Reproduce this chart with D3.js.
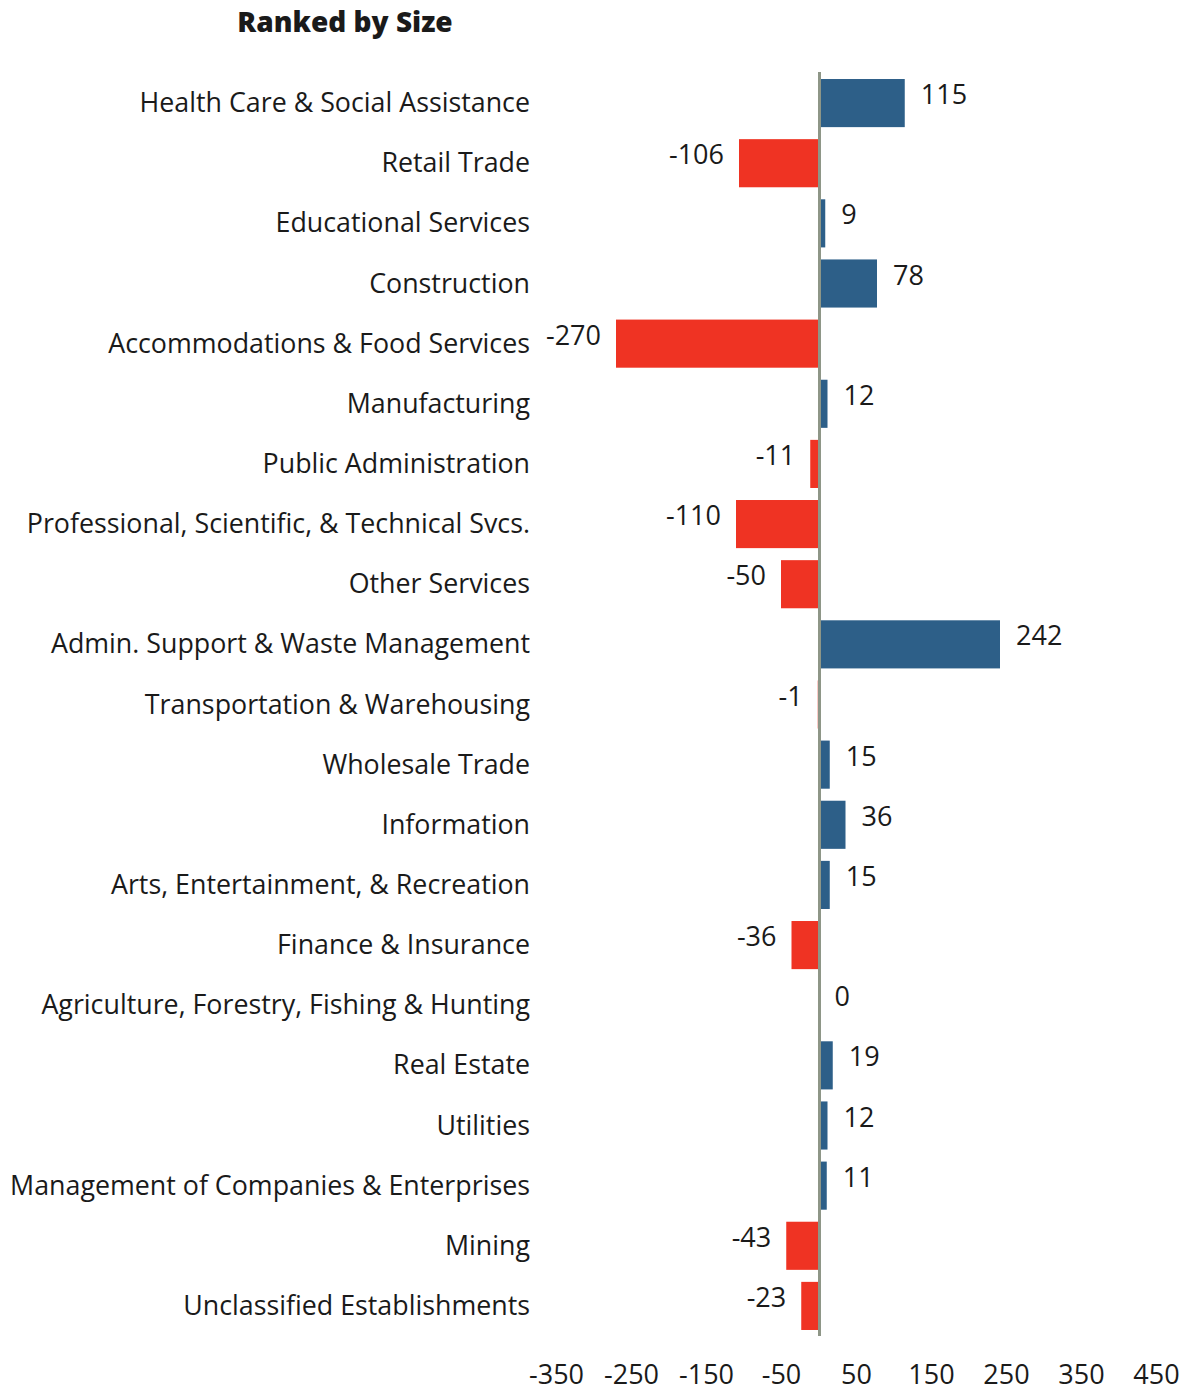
<!DOCTYPE html>
<html>
<head>
<meta charset="utf-8">
<script src="https://cdn.jsdelivr.net/npm/d3@7"></script>
<style>
  body { margin: 0; background: #fff; }
  text { font-family: "Open Sans", sans-serif; fill: #1a1a1a; }
</style>
</head>
<body>
<div id="plot"></div>
<script>
var categories = [
  "Health Care & Social Assistance",
  "Retail Trade",
  "Educational Services",
  "Construction",
  "Accommodations & Food Services",
  "Manufacturing",
  "Public Administration",
  "Professional, Scientific, & Technical Svcs.",
  "Other Services",
  "Admin. Support & Waste Management",
  "Transportation & Warehousing",
  "Wholesale Trade",
  "Information",
  "Arts, Entertainment, & Recreation",
  "Finance & Insurance",
  "Agriculture, Forestry, Fishing & Hunting",
  "Real Estate",
  "Utilities",
  "Management of Companies & Enterprises",
  "Mining",
  "Unclassified Establishments"
];
var values = [115, -106, 9, 78, -270, 12, -11, -110, -50, 242, -1, 15, 36, 15, -36, 0, 19, 12, 11, -43, -23];
var tickValues = [-350, -250, -150, -50, 50, 150, 250, 350, 450];

var data = categories.map((c, i) => ({name: c, value: values[i]}));

var svg = d3.select("div#plot")
            .append("svg")
            .attr("width", "1186")
            .attr("height", "1393");

var xScale = d3.scaleLinear()
  .domain([-350, 450])
  .range([556, 1156]);
var yScale = d3.scaleBand()
  .domain(categories)
  .range([73, 1336])
  .paddingInner(0.2)
  .paddingOuter(0.1);

// title
svg.append("text")
  .attr("x", 345)
  .attr("y", 32)
  .attr("text-anchor", "middle")
  .style("font-size", "28px")
  .style("font-weight", "800")
  .text("Ranked by Size");

// category labels
svg.append("g")
  .selectAll("text")
  .data(data)
  .join("text")
    .attr("x", 530)
    .attr("y", d => yScale(d.name) + yScale.bandwidth() / 2 + 9)
    .attr("text-anchor", "end")
    .style("font-size", "26.8px")
    .text(d => d.name);

// bars
svg.append("g")
  .selectAll("rect")
  .data(data)
  .join("rect")
    .attr("x", d => xScale(Math.min(0, d.value)))
    .attr("y", d => yScale(d.name))
    .attr("width", d => Math.abs(xScale(d.value) - xScale(0)))
    .attr("height", yScale.bandwidth())
    .attr("fill", d => d.value < 0 ? "#ef3323" : "#2d5f88");

// zero line
svg.append("line")
  .attr("x1", xScale(0) + 1)
  .attr("x2", xScale(0) + 1)
  .attr("y1", 72)
  .attr("y2", 1336)
  .attr("stroke", "#8e9687")
  .attr("stroke-width", 3);

// value labels
svg.append("g")
  .selectAll("text")
  .data(data)
  .join("text")
    .attr("x", d => d.value < 0 ? xScale(d.value) - 15 : xScale(d.value) + 16)
    .attr("y", d => yScale(d.name) + yScale.bandwidth() / 2 + 1)
    .attr("text-anchor", d => d.value < 0 ? "end" : "start")
    .style("font-size", "27px")
    .text(d => d.value);

// x axis tick labels
var xAxis = d3.axisBottom(xScale)
  .tickValues(tickValues)
  .tickFormat(d => String(d))
  .tickSize(0)
  .tickPadding(0);
var ax = svg.append("g")
  .attr("transform", "translate(0, 1365)")
  .call(xAxis);
ax.select(".domain").remove();
ax.selectAll("text")
  .style("font-size", "27px")
  .style("font-family", "'Open Sans', sans-serif")
  .attr("fill", "#1a1a1a");
</script>
</body>
</html>
